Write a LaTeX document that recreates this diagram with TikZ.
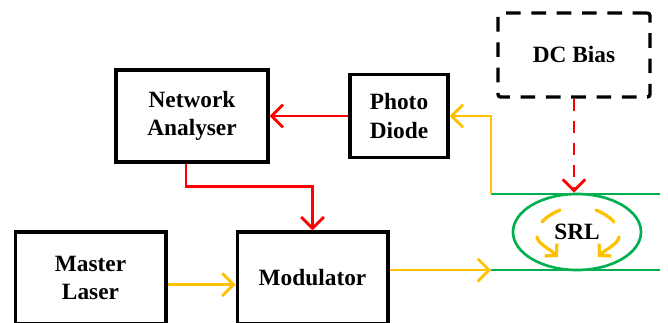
\documentclass[tikz,border=0pt]{standalone}
\usepackage{fontspec}
\setmainfont{Liberation Serif}
\usetikzlibrary{arrows.meta,shapes.geometric,positioning}
\definecolor{sigred}{RGB}{255,0,0}
\definecolor{lightgold}{RGB}{255,192,0}
\definecolor{ringgreen}{RGB}{0,176,80}

\begin{document}
\begin{tikzpicture}[x=0.75pt, y=-0.75pt,
    block/.style={draw, line width=2.5pt, align=center, inner sep=0pt,
      font=\fontsize{17.5}{21.5}\selectfont\bfseries},
    elec/.style={draw=sigred, line width=2.1pt, -{Straight Barb[length=8.5pt,width=17pt]}},
    optic/.style={draw=lightgold, line width=2.1pt, -{Straight Barb[length=8.5pt,width=17pt]}},
    swirl/.style={draw=lightgold, line width=2.4pt, line cap=round},
    guide/.style={draw=ringgreen, line width=2pt}]
    \clip (0,0) rectangle (668,322);
    \node[block, minimum width=114pt, minimum height=69pt] (na) at (192,116) {Network\\Analyser};
    \node[block, minimum width=73.5pt, minimum height=62pt, right=59pt of na] (pd) {Photo\\Diode};
    \node[block, dash pattern=on 11pt off 8pt, rounded corners=2pt, minimum width=114pt, minimum height=63pt] (dc) at (574,55) {DC Bias};
    \node[block, minimum width=113pt, minimum height=69pt] (ml) at (90.5,278) {Master\\Laser};
    \node[block, minimum width=113pt, minimum height=69pt, right=51pt of ml] (mod) {Modulator};
    \node[ellipse, guide, minimum width=96pt, minimum height=57pt, inner sep=0pt,
      font=\fontsize{17.5}{21.5}\selectfont\bfseries] (srl) at (577,232) {SRL};

    % ring waveguides
    \coordinate (wgtop) at (491,194);
    \coordinate (wgbot) at (491,270);
    \draw[guide] (wgtop) -- (660,194);
    \draw[guide] (wgbot) -- (660,270);

    % electrical paths
    \draw[elec] (pd.west) -- (na.east);
    \draw[elec] ([xshift=-4.5pt]na.south) -- ++(0,23) -| (mod.north);
    \draw[elec, dash pattern=on 9pt off 7.5pt] (dc.south) -- (dc.south |- srl.north);

    % optical paths
    \draw[optic] (wgtop) |- (pd.east);
    \draw[optic] (mod.east |- wgbot) -- (wgbot);
    \draw[optic] ([yshift=-5pt]ml.east) -- ([yshift=-5pt]mod.west);

    % circulating light in the ring
    \draw[swirl] (560,210) .. controls (553,213) and (546,217) .. (542,222);
    \draw[swirl, -{Straight Barb[length=6pt,width=13pt]}] (537,237) .. controls (538,244) and (550,249) .. (558,257);
    \draw[swirl] (596,210) .. controls (603,213) and (610,217) .. (614,222);
    \draw[swirl, -{Straight Barb[length=6pt,width=13pt]}] (619,237) .. controls (618,244) and (606,249) .. (598,257);
\end{tikzpicture}
\end{document}
